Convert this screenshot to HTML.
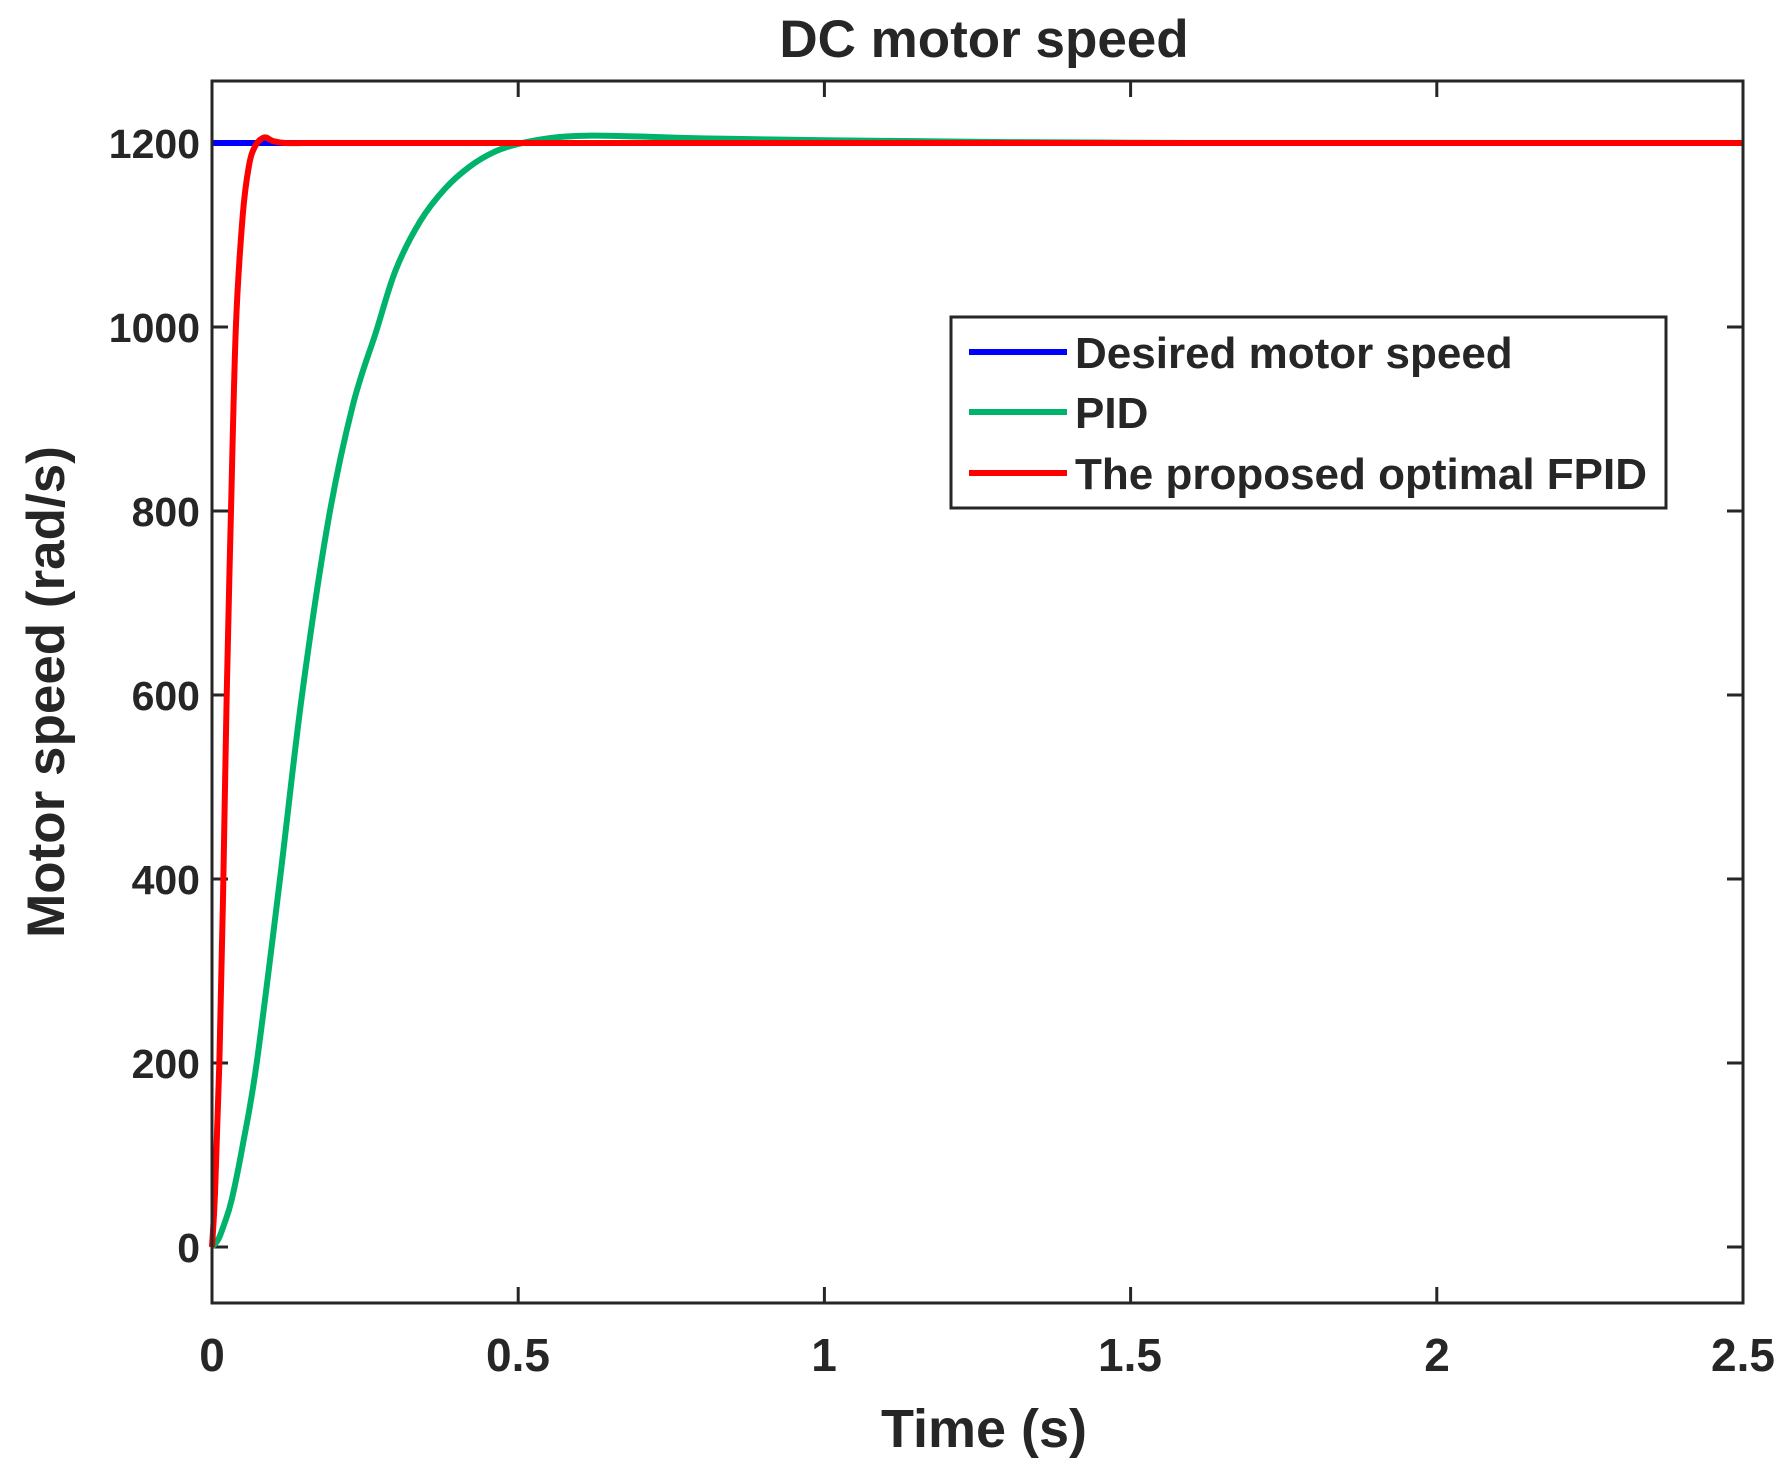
<!DOCTYPE html>
<html><head><meta charset="utf-8"><style>
html,body{margin:0;padding:0;background:#fff;}
svg{display:block;}
text{font-family:"Liberation Sans",Arial,sans-serif;font-weight:bold;fill:#262626;}
</style></head><body>
<svg id="s" width="1788" height="1468" viewBox="0 0 1788 1468" xmlns="http://www.w3.org/2000/svg">
<rect width="1788" height="1468" fill="#fff"/>
<text x="984" y="57" font-size="53" text-anchor="middle" fill="#000">DC motor speed</text>
<g id="ticks" stroke="#262626" stroke-width="3"></g>
<g font-size="41" text-anchor="end">
<text x="200" y="1262">0</text>
<text x="200" y="1078">200</text>
<text x="200" y="894">400</text>
<text x="200" y="710">600</text>
<text x="200" y="526">800</text>
<text x="200" y="342">1000</text>
<text x="200" y="158">1200</text>
</g>
<g font-size="46" text-anchor="middle">
<text x="212" y="1371">0</text>
<text x="518" y="1371">0.5</text>
<text x="824" y="1371">1</text>
<text x="1130" y="1371">1.5</text>
<text x="1437" y="1371">2</text>
<text x="1743" y="1371">2.5</text>
</g>
<text x="984" y="1447" font-size="54" text-anchor="middle">Time (s)</text>
<text transform="translate(64,692) rotate(-90)" font-size="53" text-anchor="middle">Motor speed (rad/s)</text>
<line x1="212" y1="143" x2="1743" y2="143" stroke="#0000ff" stroke-width="6"/>
<path id="g" fill="none" stroke="#00b36b" stroke-width="6" stroke-linejoin="round"/>
<path id="r" fill="none" stroke="#ff0000" stroke-width="6" stroke-linejoin="round"/>
<rect x="212" y="81" width="1531" height="1222" fill="none" stroke="#262626" stroke-width="3"/>
<rect x="951" y="317" width="715" height="191" fill="#fff" stroke="#262626" stroke-width="3"/>
<line x1="969" y1="352" x2="1067" y2="352" stroke="#0000ff" stroke-width="6"/>
<line x1="969" y1="412" x2="1067" y2="412" stroke="#00b36b" stroke-width="6"/>
<line x1="969" y1="473" x2="1067" y2="473" stroke="#ff0000" stroke-width="6"/>
<g font-size="44">
<text x="1075" y="368" fill="#000">Desired motor speed</text>
<text x="1075" y="428" fill="#000">PID</text>
<text x="1075" y="489" fill="#000">The proposed optimal FPID</text>
</g>
</svg>
<script>
var X=function(t){return 212+t*612.4},Y=function(v){return 1247-v*0.92};
var tk=document.getElementById('ticks'),h='';
for(var v=0;v<=1200;v+=200){var y=Y(v);h+='<line x1="212" y1="'+y+'" x2="228" y2="'+y+'"/><line x1="1727" y1="'+y+'" x2="1743" y2="'+y+'"/>';}
for(var i=0;i<=5;i++){var x=X(i*0.5);h+='<line x1="'+x+'" y1="1303" x2="'+x+'" y2="1287"/><line x1="'+x+'" y1="81" x2="'+x+'" y2="97"/>';}
tk.innerHTML=h;
function path(p){var last=p[p.length-1];for(var t=Math.ceil(last[0]*20+0.01)/20;t<=2.5001;t+=0.05)p.push([t,1200]);
var pts=p.map(function(a){return [X(a[0]),Y(a[1])]});var d='M'+pts[0][0]+','+pts[0][1];
for(var i=0;i<pts.length-1;i++){var p0=pts[Math.max(0,i-1)],p1=pts[i],p2=pts[i+1],p3=pts[Math.min(pts.length-1,i+2)];
d+=' C'+(p1[0]+(p2[0]-p0[0])/6)+','+(p1[1]+(p2[1]-p0[1])/6)+' '+(p2[0]-(p3[0]-p1[0])/6)+','+(p2[1]-(p3[1]-p1[1])/6)+' '+p2[0]+','+p2[1];}
return d;}
document.getElementById('g').setAttribute('d',path([[0,0],[0.01,8],[0.02,25],[0.032,51],[0.05,110],[0.073,200],[0.111,400],[0.147,600],[0.19,790],[0.23,915],[0.268,995],[0.3,1062],[0.34,1115],[0.38,1150],[0.42,1174],[0.46,1190],[0.5,1199],[0.56,1206],[0.62,1208],[0.7,1207],[0.8,1205],[0.9,1204],[1.0,1203],[1.15,1202],[1.3,1201],[1.45,1200.5],[1.6,1200]]));
document.getElementById('r').setAttribute('d',path([[0,0],[0.005,60],[0.012,200],[0.018,380],[0.024,600],[0.031,800],[0.039,1000],[0.05,1120],[0.06,1174],[0.07,1196],[0.085,1206],[0.1,1202],[0.12,1200]]));
</script>
</body></html>
